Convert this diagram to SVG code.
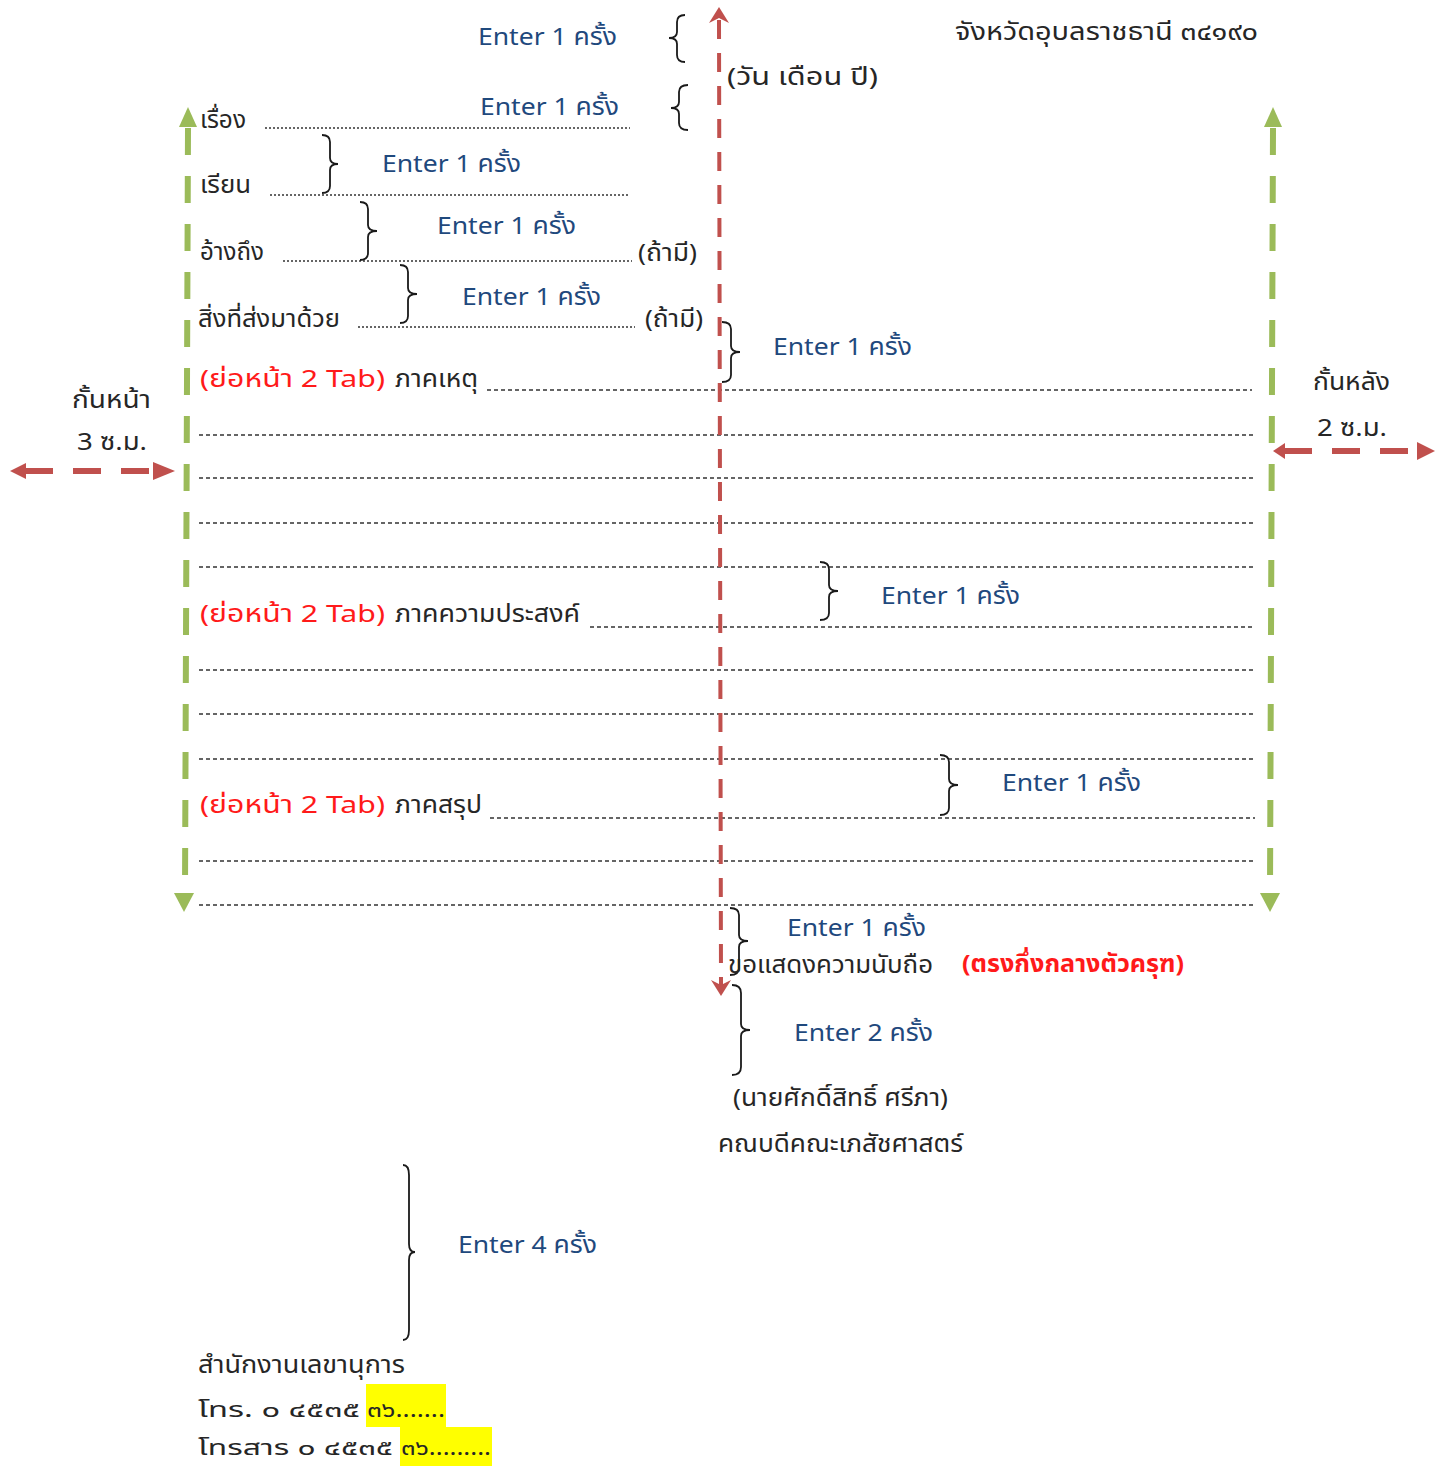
<svg xmlns="http://www.w3.org/2000/svg" width="1440" height="1466" viewBox="0 0 1440 1466">
<defs>
<style>
text{font-family:Tahoma,"Noto Sans Thai","Noto Sans Thai UI","Loma","Garuda","DejaVu Sans",sans-serif;font-size:24px;fill:#262626}
.ent{fill:#1F497D}
.red{fill:#FF1A1A}
.redb{fill:#FF1A1A;font-weight:bold}
.small{font-size:22px}
.dot{stroke:#333;stroke-width:1.4;stroke-dasharray:2 2;fill:none}
.dash{stroke:#333;stroke-width:1.4;stroke-dasharray:4 3;fill:none}
.brace{stroke:#1a1a1a;stroke-width:1.8;fill:none}
.gline{stroke:#9BBB59;stroke-width:6;stroke-dasharray:27 21;fill:none}
.rline{stroke:#C0504D;stroke-width:4;stroke-dasharray:19 14;fill:none}
.rhline{stroke:#C0504D;stroke-width:6;stroke-dasharray:28 20;fill:none}
.gfill{fill:#9BBB59}
.rfill{fill:#C0504D}
</style>
</defs>
<rect width="1440" height="1466" fill="#fff"/>

<g id="highlights">
<rect x="366" y="1384" width="80" height="43" fill="#FFFF00"/>
<rect x="400" y="1427" width="92" height="39" fill="#FFFF00"/>
</g>

<g id="dotted-lines">
<line class="dot" x1="265" y1="128" x2="630" y2="128"/>
<line class="dot" x1="270" y1="195" x2="628" y2="195"/>
<line class="dot" x1="283" y1="261" x2="632" y2="261"/>
<line class="dot" x1="358" y1="327" x2="635" y2="327"/>
<line class="dash" x1="487" y1="390" x2="1252" y2="390"/>
<line class="dash" x1="199" y1="435" x2="1255" y2="435"/>
<line class="dash" x1="199" y1="478" x2="1255" y2="478"/>
<line class="dash" x1="199" y1="523" x2="1255" y2="523"/>
<line class="dash" x1="199" y1="567" x2="1255" y2="567"/>
<line class="dash" x1="590" y1="627" x2="1252" y2="627"/>
<line class="dash" x1="199" y1="670" x2="1255" y2="670"/>
<line class="dash" x1="199" y1="714" x2="1255" y2="714"/>
<line class="dash" x1="199" y1="759" x2="1255" y2="759"/>
<line class="dash" x1="490" y1="818" x2="1255" y2="818"/>
<line class="dash" x1="199" y1="861" x2="1255" y2="861"/>
<line class="dash" x1="199" y1="905" x2="1255" y2="905"/>
</g>

<g id="connectors">
<!-- left green margin -->
<line class="gline" x1="188" y1="128" x2="185" y2="892"/>
<path class="gfill" d="M188,107 L197,127 L179,127 Z"/>
<path class="gfill" d="M184,912 L174,893 L194,893 Z"/>
<!-- right green margin -->
<line class="gline" x1="1273" y1="128" x2="1270" y2="892"/>
<path class="gfill" d="M1273,107 L1282,127 L1264,127 Z"/>
<path class="gfill" d="M1270,912 L1260,893 L1280,893 Z"/>
<!-- red vertical centre -->
<line class="rline" x1="719" y1="20" x2="721" y2="985"/>
<path class="rfill" d="M719,7 L729,23 L719,18 L709,23 Z"/>
<path class="rfill" d="M721,996 L711,980 L721,985 L731,980 Z"/>
<!-- left red horizontal -->
<line class="rhline" x1="25" y1="471" x2="155" y2="471"/>
<path class="rfill" d="M10,471 L26,463 L26,479 Z"/>
<path class="rfill" d="M175,471 L153,462 L153,480 Z"/>
<!-- right red horizontal -->
<line class="rhline" x1="1284" y1="451" x2="1417" y2="451"/>
<path class="rfill" d="M1273,451 L1285,443 L1285,459 Z"/>
<path class="rfill" d="M1435,451 L1417,442 L1417,460 Z"/>
</g>

<g id="braces">
<path class="brace" d="M685,15 Q677,15 677,22 L677,32 Q677,38 669,38 Q677,38 677,44 L677,55 Q677,62 685,62"/>
<path class="brace" d="M688,85 Q679,85 679,92 L679,102 Q679,108 671,108 Q679,108 679,114 L679,123 Q679,130 688,130"/>
<path class="brace" d="M322,135 Q330,135 330,142 L330,158 Q330,164 338,164 Q330,164 330,170 L330,186 Q330,193 322,193"/>
<path class="brace" d="M360,202 Q368,202 368,209 L368,225 Q368,231 377,231 Q368,231 368,237 L368,253 Q368,260 360,260"/>
<path class="brace" d="M400,265 Q408,265 408,272 L408,288 Q408,294 417,294 Q408,294 408,300 L408,316 Q408,323 400,323"/>
<path class="brace" d="M722,322 Q731,322 731,329 L731,346 Q731,352 740,352 Q731,352 731,358 L731,375 Q731,382 722,382"/>
<path class="brace" d="M820,562 Q829,562 829,569 L829,585 Q829,591 838,591 Q829,591 829,597 L829,613 Q829,620 820,620"/>
<path class="brace" d="M940,755 Q949,755 949,762 L949,779 Q949,785 958,785 Q949,785 949,791 L949,808 Q949,815 940,815"/>
<path class="brace" d="M730,908 Q739,908 739,915 L739,935 Q739,941 748,941 Q739,941 739,947 L739,968 Q739,975 730,975"/>
<path class="brace" d="M732,985 Q741,985 741,993 L741,1024 Q741,1030 750,1030 Q741,1030 741,1036 L741,1067 Q741,1075 732,1075"/>
<path class="brace" d="M403,1165 Q409,1165 409,1175 L409,1244 Q409,1252 415,1252 Q409,1252 409,1260 L409,1330 Q409,1340 403,1340"/>
</g>

<g id="enter-labels">
<text class="ent" x="478" y="45" textLength="139" lengthAdjust="spacingAndGlyphs">Enter 1 ครั้ง</text>
<text class="ent" x="480" y="115" textLength="139" lengthAdjust="spacingAndGlyphs">Enter 1 ครั้ง</text>
<text class="ent" x="382" y="172" textLength="139" lengthAdjust="spacingAndGlyphs">Enter 1 ครั้ง</text>
<text class="ent" x="437" y="234" textLength="139" lengthAdjust="spacingAndGlyphs">Enter 1 ครั้ง</text>
<text class="ent" x="462" y="305" textLength="139" lengthAdjust="spacingAndGlyphs">Enter 1 ครั้ง</text>
<text class="ent" x="773" y="355" textLength="139" lengthAdjust="spacingAndGlyphs">Enter 1 ครั้ง</text>
<text class="ent" x="881" y="604" textLength="139" lengthAdjust="spacingAndGlyphs">Enter 1 ครั้ง</text>
<text class="ent" x="1002" y="791" textLength="139" lengthAdjust="spacingAndGlyphs">Enter 1 ครั้ง</text>
<text class="ent" x="787" y="936" textLength="139" lengthAdjust="spacingAndGlyphs">Enter 1 ครั้ง</text>
<text class="ent" x="794" y="1041" textLength="139" lengthAdjust="spacingAndGlyphs">Enter 2 ครั้ง</text>
<text class="ent" x="458" y="1253" textLength="139" lengthAdjust="spacingAndGlyphs">Enter 4 ครั้ง</text>
</g>

<g id="header">
<text x="955" y="40" textLength="303" lengthAdjust="spacingAndGlyphs">จังหวัดอุบลราชธานี  ๓๔๑๙๐</text>
<text x="727" y="85" textLength="151" lengthAdjust="spacingAndGlyphs">(วัน  เดือน  ปี)</text>
</g>

<g id="fields">
<text x="200" y="128" textLength="46" lengthAdjust="spacingAndGlyphs">เรื่อง</text>
<text x="200" y="193" textLength="51" lengthAdjust="spacingAndGlyphs">เรียน</text>
<text x="200" y="260" textLength="64" lengthAdjust="spacingAndGlyphs">อ้างถึง</text>
<text x="638" y="261" textLength="59" lengthAdjust="spacingAndGlyphs">(ถ้ามี)</text>
<text x="198" y="327" textLength="142" lengthAdjust="spacingAndGlyphs">สิ่งที่ส่งมาด้วย</text>
<text x="645" y="327" textLength="58" lengthAdjust="spacingAndGlyphs">(ถ้ามี)</text>
</g>

<g id="margin-left">
<text x="72" y="408" textLength="79" lengthAdjust="spacingAndGlyphs">กั้นหน้า</text>
<text x="77" y="450" textLength="70" lengthAdjust="spacingAndGlyphs">3 ซ.ม.</text>
</g>
<g id="margin-right">
<text x="1313" y="390" textLength="77" lengthAdjust="spacingAndGlyphs">กั้นหลัง</text>
<text x="1317" y="436" textLength="70" lengthAdjust="spacingAndGlyphs">2 ซ.ม.</text>
</g>

<g id="body-cause">
<text class="red" x="200" y="387" textLength="185" lengthAdjust="spacingAndGlyphs">(ย่อหน้า 2  Tab)</text>
<text x="395" y="387" textLength="83" lengthAdjust="spacingAndGlyphs">ภาคเหตุ</text>
</g>
<g id="body-purpose">
<text class="red" x="200" y="622" textLength="185" lengthAdjust="spacingAndGlyphs">(ย่อหน้า 2  Tab)</text>
<text x="395" y="622" textLength="185" lengthAdjust="spacingAndGlyphs">ภาคความประสงค์</text>
</g>
<g id="body-summary">
<text class="red" x="200" y="813" textLength="185" lengthAdjust="spacingAndGlyphs">(ย่อหน้า 2  Tab)</text>
<text x="395" y="813" textLength="87" lengthAdjust="spacingAndGlyphs">ภาคสรุป</text>
</g>

<g id="closing">
<text x="728" y="973" textLength="205" lengthAdjust="spacingAndGlyphs">ขอแสดงความนับถือ</text>
<text class="redb" x="962" y="972" textLength="222" lengthAdjust="spacingAndGlyphs">(ตรงกึ่งกลางตัวครุฑ)</text>
</g>
<g id="signature">
<text x="733" y="1106" textLength="215" lengthAdjust="spacingAndGlyphs">(นายศักดิ์สิทธิ์ ศรีภา)</text>
<text x="718" y="1152" textLength="245" lengthAdjust="spacingAndGlyphs">คณบดีคณะเภสัชศาสตร์</text>
</g>

<g id="office">
<text x="198" y="1373" textLength="207" lengthAdjust="spacingAndGlyphs">สำนักงานเลขานุการ</text>
<text class="small" x="198" y="1417" textLength="162" lengthAdjust="spacingAndGlyphs">โทร.  ๐ ๔๕๓๕</text>
<text class="small" x="367" y="1417" textLength="78" lengthAdjust="spacingAndGlyphs">๓๖.......</text>
<text class="small" x="198" y="1455" textLength="195" lengthAdjust="spacingAndGlyphs">โทรสาร  ๐ ๔๕๓๕</text>
<text class="small" x="401" y="1455" textLength="90" lengthAdjust="spacingAndGlyphs">๓๖.........</text>
</g>
</svg>
